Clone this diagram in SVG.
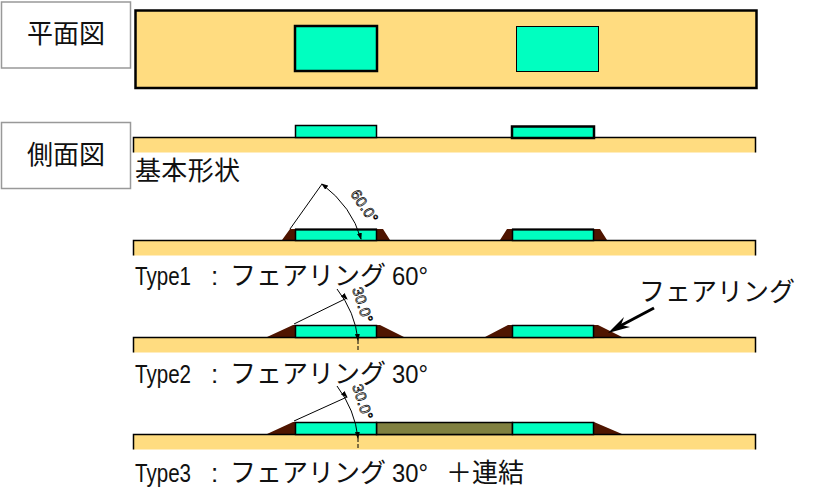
<svg xmlns="http://www.w3.org/2000/svg" width="828" height="492" viewBox="0 0 828 492">
<style>
.j{font-family:"Noto Sans CJK JP","Liberation Sans",sans-serif;font-size:26px;fill:#111}
.l{font-family:"Liberation Sans","Noto Sans CJK JP",sans-serif;font-size:26px;fill:#111}
.box{fill:#fff;stroke:#999;stroke-width:1.5}
.base{fill:#ffdc80}
.edge{fill:none;stroke:#000;stroke-width:1.5}
.g{fill:#00ffc0;stroke:#000;stroke-width:1.5}
.g2{fill:#00ffc0;stroke:#000;stroke-width:2.5}
.b{fill:#4f1500}
.d{fill:none;stroke:#000;stroke-width:1}
.t{font-family:"Liberation Sans",sans-serif;font-size:15px;letter-spacing:.3px;fill:none;stroke:#000;stroke-width:.7}
</style>
<defs>
<marker id="a" markerWidth="7" markerHeight="5" refX="6" refY="2.500" orient="auto-start-reverse" markerUnits="userSpaceOnUse"><path d="M0 0L7 2.500L0 5Z" fill="#000"/></marker>
<g id="basebar"><rect class="base" x="133.500" y="0" width="622" height="15"/><path class="edge" d="M133.500 15V0H755.500V15"/></g>
</defs>
<g id="label-plan"><rect class="box" x="1.500" y="2" width="129" height="66"/><text class="j" x="27" y="43" textLength="78">平面図</text></g>
<g id="label-side"><rect class="box" x="1.500" y="122.500" width="129" height="66"/><text class="j" x="27" y="164" textLength="78">側面図</text></g>
<g id="plan">
<rect x="135.500" y="10.500" width="621" height="77.500" fill="#ffdc80" stroke="#000" stroke-width="2.500"/>
<rect class="g2" x="295" y="26" width="82" height="45"/>
<rect x="516.500" y="26.500" width="82" height="45" fill="#00ffc0" stroke="#000" stroke-width="1"/>
</g>
<g id="side-basic">
<use href="#basebar" y="137.500"/>
<rect class="g" x="295.500" y="125.500" width="81" height="12"/>
<rect class="g2" x="512" y="126.500" width="82" height="11.500"/>
<text class="j" x="135" y="180" textLength="105">基本形状</text>
</g>
<g id="type1">
<path class="b" d="M282 240L290 229H383L390 240ZM500 240L507 229H600L607 240Z"/>
<use href="#basebar" y="240.500"/>
<rect class="g" x="295.500" y="229.500" width="81" height="11"/>
<rect class="g" x="512.500" y="229.500" width="81" height="11"/>
<path d="M295 229.500H377M512 229.500H594" stroke="#000" stroke-width="2"/>
<text x="135" y="285"><tspan class="l" textLength="56" lengthAdjust="spacingAndGlyphs">Type1</tspan><tspan class="l" x="211">:</tspan><tspan class="j" x="230">フェアリング</tspan><tspan class="l" x="392" textLength="36" lengthAdjust="spacingAndGlyphs">60°</tspan></text>
</g>
<g id="type2">
<path class="b" d="M267 337L293 325H380L404 337ZM485 337L508 325H598L622 337Z"/>
<use href="#basebar" y="337.500"/>
<rect class="g" x="295.500" y="325.500" width="81" height="12"/>
<rect class="g" x="512.500" y="325.500" width="81" height="12"/>
<text x="135" y="383"><tspan class="l" textLength="56" lengthAdjust="spacingAndGlyphs">Type2</tspan><tspan class="l" x="211">:</tspan><tspan class="j" x="230">フェアリング</tspan><tspan class="l" x="392" textLength="36" lengthAdjust="spacingAndGlyphs">30°</tspan></text>
</g>
<g id="type3">
<path class="b" d="M267 434L293 422H380V434ZM594 422L622 434H590V422Z"/>
<use href="#basebar" y="434.500"/>
<rect x="376.500" y="422.500" width="136" height="12" fill="#808040" stroke="#000" stroke-width="1.500"/>
<rect class="g" x="295.500" y="422.500" width="81" height="12"/>
<rect class="g" x="512.500" y="422.500" width="81" height="12"/>
<text x="135" y="482"><tspan class="l" textLength="56" lengthAdjust="spacingAndGlyphs">Type3</tspan><tspan class="l" x="211">:</tspan><tspan class="j" x="230">フェアリング</tspan><tspan class="l" x="392" textLength="36" lengthAdjust="spacingAndGlyphs">30°</tspan><tspan class="j" x="446">＋連結</tspan></text>
</g>
<g id="fairing-label"><text class="j" x="639" y="301">フェアリング</text></g>
<g id="connectors">
<path class="d" d="M322 184L290 229"/>
<path class="d" d="M322 184Q352 207 361 239" marker-start="url(#a)" marker-end="url(#a)"/>
<text class="t" transform="translate(350 194) rotate(56)">60.0°</text>
<path class="d" d="M294 324L347 298"/>
<path class="d" d="M337 289Q355 312 358 340" marker-end="url(#a)"/>
<path class="d" d="M345 297L347 299" marker-end="url(#a)"/>
<path class="d" d="M358 340V352" stroke-dasharray="4 2"/>
<text class="t" transform="translate(352 289) rotate(72)">30.0°</text>
<path class="d" d="M294 421L347 397"/>
<path class="d" d="M337 386Q355 410 358 438" marker-end="url(#a)"/>
<path class="d" d="M345 395L347 397" marker-end="url(#a)"/>
<path class="d" d="M358 438V449" stroke-dasharray="4 2"/>
<text class="t" transform="translate(352 386) rotate(72)">30.0°</text>
<path d="M654 308L620 326" fill="none" stroke="#000" stroke-width="3"/>
<path d="M608 333L624 317L621 325L630 327Z" fill="#000"/>
</g>
</svg>
